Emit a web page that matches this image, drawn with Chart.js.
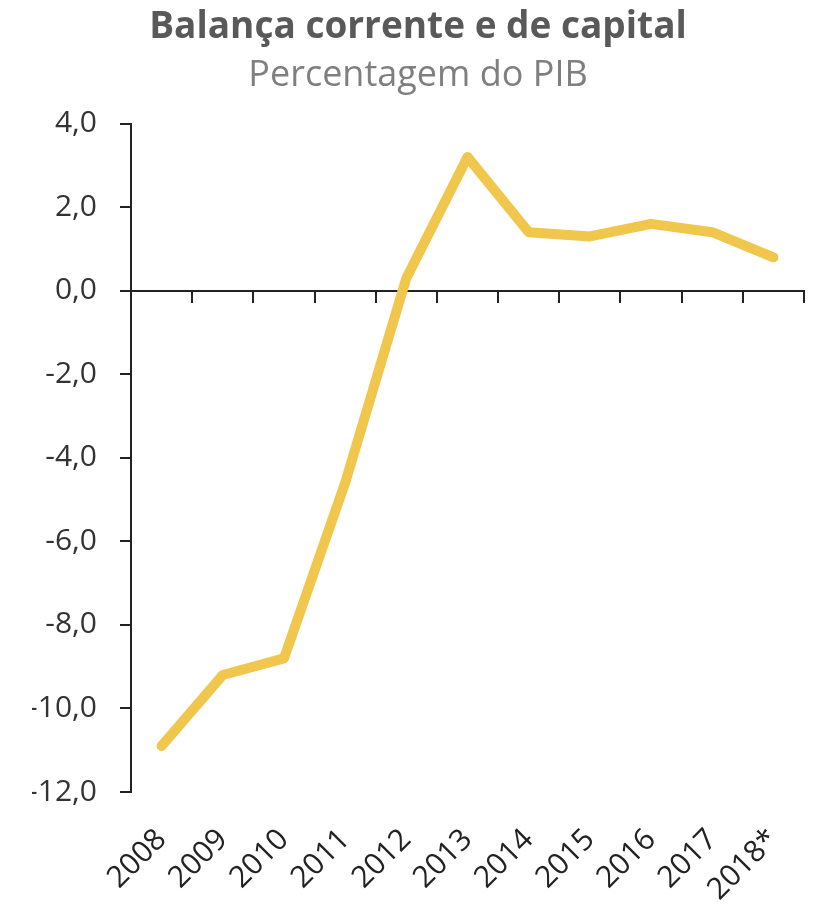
<!DOCTYPE html>
<html>
<head>
<meta charset="utf-8">
<script src="https://cdn.jsdelivr.net/npm/chart.js@4/dist/chart.umd.min.js"></script>
<style>
  html, body { margin: 0; padding: 0; background: #ffffff; }
  #wrap { width: 813px; height: 909px; position: relative; }
</style>
</head>
<body>
<div id="wrap"><canvas id="c"></canvas></div>
<script>
const years = ['2008', '2009', '2010', '2011', '2012', '2013', '2014', '2015', '2016', '2017', '2018*'];
const balance = [-10.9, -9.2, -8.8, -4.6, 0.3, 3.2, 1.4, 1.3, 1.6, 1.4, 0.8];
const yMin = -12;
const yMax = 4;
const yStep = 2;
const titleText = 'Balança corrente e de capital';
const subtitleText = 'Percentagem do PIB';

const FONT = "'Open Sans', 'Noto Sans', sans-serif";

function noPad(s) {
  s.paddingLeft = 0; s.paddingRight = 0; s.paddingTop = 0; s.paddingBottom = 0;
}

new Chart(document.getElementById('c'), {
  type: 'line',
  data: {
    labels: years,
    datasets: [{
      data: balance,
      xAxisID: 'x',
      yAxisID: 'y',
      borderColor: '#F0C64C',
      borderWidth: 10,
      borderCapStyle: 'round',
      borderJoinStyle: 'round',
      pointRadius: 0,
      pointHoverRadius: 0,
      tension: 0,
      fill: false
    }]
  },
  options: {
    responsive: true,
    maintainAspectRatio: false,
    animation: false,
    layout: { padding: { left: 32, right: 9, top: 0, bottom: 0 } },
    plugins: {
      legend: { display: false },
      tooltip: { enabled: false },
      title: {
        display: true,
        text: titleText,
        color: '#595959',
        font: { family: FONT, size: 37, weight: 'bold' },
        padding: { top: 5, bottom: 0 }
      },
      subtitle: {
        display: true,
        text: subtitleText,
        color: '#7f7f7f',
        font: { family: FONT, size: 36, weight: 'normal' },
        padding: { top: 5, bottom: 26 }
      }
    },
    scales: {
      y: {
        type: 'linear',
        position: 'left',
        min: yMin,
        max: yMax,
        afterFit: (s) => { s.width = 99; noPad(s); },
        ticks: {
          stepSize: yStep,
          color: '#333333',
          font: { family: FONT, size: 30 },
          padding: 23,
          callback: (v) => Number(v).toFixed(1).replace('.', ',')
        },
        grid: {
          display: true,
          drawOnChartArea: false,
          drawTicks: true,
          tickLength: 11,
          color: '#222222',
          lineWidth: 2
        },
        border: { display: true, color: '#222222', width: 2 }
      },
      x: {
        type: 'category',
        labels: years,
        position: { y: 0 },
        offset: true,
        afterFit: (s) => { noPad(s); },
        ticks: { display: false },
        grid: {
          display: true,
          offset: true,
          drawOnChartArea: false,
          drawTicks: true,
          tickLength: 11,
          color: '#222222',
          lineWidth: 2
        },
        border: { display: true, color: '#222222', width: 2 }
      },
      xLabels: {
        type: 'category',
        labels: years,
        position: 'bottom',
        offset: true,
        afterFit: (s) => { s.height = 117; noPad(s); },
        ticks: {
          color: '#222222',
          font: { family: FONT, size: 30 },
          minRotation: 45,
          maxRotation: 45,
          autoSkip: false,
          padding: 30
        },
        grid: { display: false, drawTicks: false },
        border: { display: false }
      }
    }
  }
});
</script>
</body>
</html>
